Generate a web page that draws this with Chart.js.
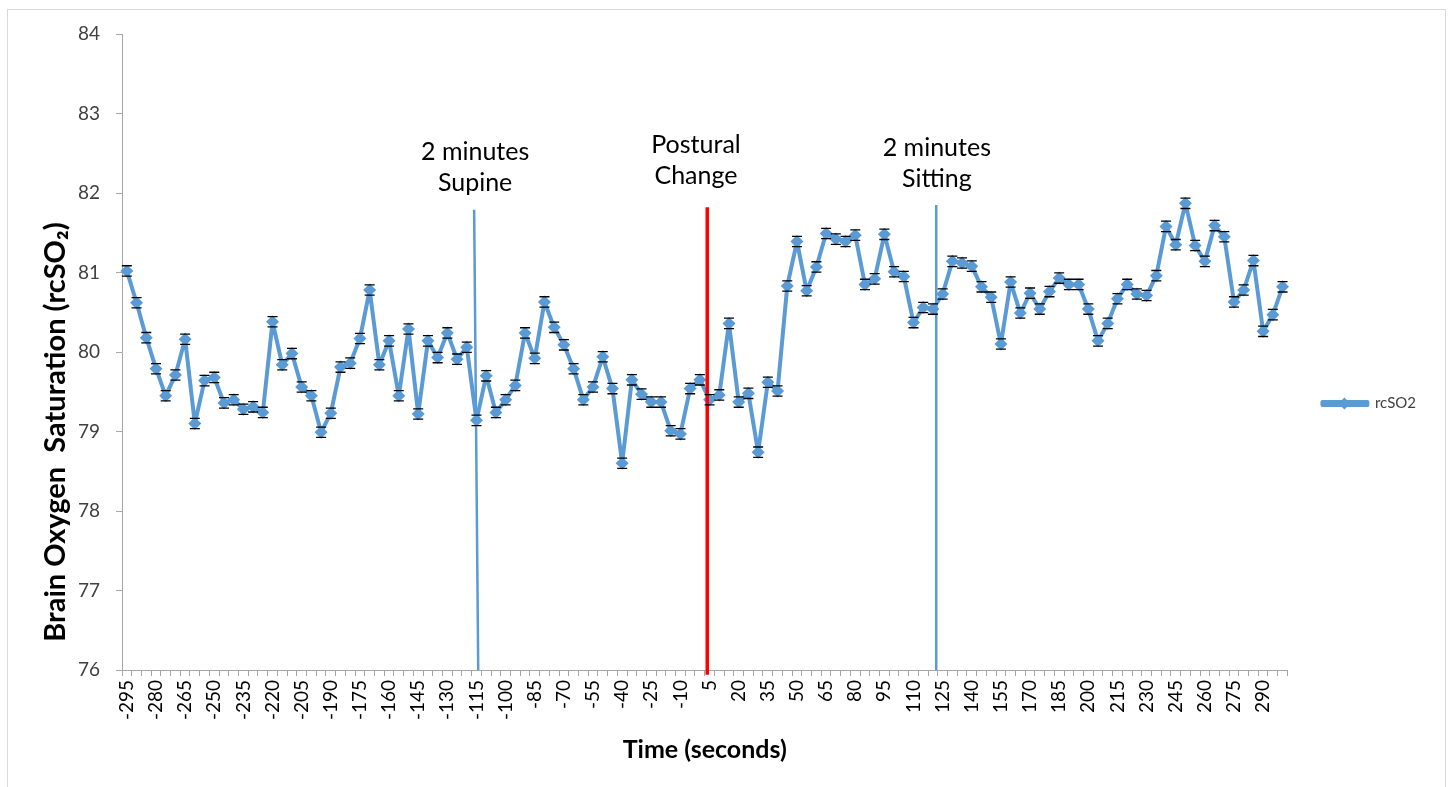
<!DOCTYPE html>
<html>
<head>
<meta charset="utf-8">
<script src="https://cdn.jsdelivr.net/npm/chart.js@4.4.0/dist/chart.umd.min.js"></script>
<style>
  html, body { margin: 0; padding: 0; background: #fff; }
  #wrap { width: 1448px; height: 787px; }
</style>
</head>
<body>
<div id="wrap"><canvas id="myChart" width="1448" height="787"></canvas></div>
<script>
'use strict';

// time in seconds relative to the postural change
let seconds = [
  -295,-290,-285,-280,-275,-270,-265,-260,-255,-250,
  -245,-240,-235,-230,-225,-220,-215,-210,-205,-200,
  -195,-190,-185,-180,-175,-170,-165,-160,-155,-150,
  -145,-140,-135,-130,-125,-120,-115,-110,-105,-100,
  -95,-90,-85,-80,-75,-70,-65,-60,-55,-50,
  -45,-40,-35,-30,-25,-20,-15,-10,-5,0,
  5,10,15,20,25,30,35,40,45,50,
  55,60,65,70,75,80,85,90,95,100,
  105,110,115,120,125,130,135,140,145,150,
  155,160,165,170,175,180,185,190,195,200,
  205,210,215,220,225,230,235,240,245,250,
  255,260,265,270,275,280,285,290,295,300];

let rcSO2 = [
  81.02,80.62,80.18,79.79,79.45,79.71,80.16,79.10,79.64,79.68,
  79.36,79.40,79.28,79.31,79.24,80.38,79.84,79.98,79.56,79.45,
  78.99,79.23,79.81,79.86,80.17,80.78,79.84,80.14,79.45,80.29,
  79.22,80.14,79.93,80.24,79.91,80.06,79.14,79.70,79.24,79.40,
  79.58,80.24,79.92,80.63,80.31,80.09,79.79,79.40,79.56,79.94,
  79.54,78.60,79.65,79.47,79.37,79.37,79.01,78.97,79.54,79.65,
  79.40,79.46,80.36,79.37,79.48,78.74,79.62,79.51,80.83,81.39,
  80.77,81.07,81.49,81.42,81.39,81.47,80.85,80.92,81.48,81.01,
  80.95,80.37,80.56,80.54,80.73,81.14,81.12,81.08,80.82,80.69,
  80.10,80.88,80.49,80.74,80.54,80.76,80.93,80.85,80.85,80.54,
  80.14,80.36,80.67,80.85,80.73,80.71,80.96,81.58,81.35,81.87,
  81.34,81.14,81.59,81.45,80.63,80.78,81.15,80.26,80.47,80.82];

// standard error shown as caps around each point
let stdErr = 0.065;

let yTicks = [76, 77, 78, 79, 80, 81, 82, 83, 84];

// event markers drawn as two-point lines: [seconds, rcSO2]
let supineLine = [[-116.2, 81.79], [-114.1, 76]];
let changeLine = [[3.8, 81.82], [3.8, 75.94]];
let sittingLine = [[121.7, 81.85], [121.7, 76]];
let markerLabels = [
  { x: -115.7, lines: ['2 minutes', 'Supine'], top: 152 },
  { x: -2, lines: ['Postural', 'Change'], top: 145 },
  { x: 122, lines: ['2 minutes', 'Sitting'], top: 148 }
];
let yTitle = 'Brain Oxygen  Saturation (rcSO₂)';

const BLUE = '#5B9BD5';
const FONT = 'Lato, "Open Sans", sans-serif';

function toPoints(arr) {
  return arr.map(p => ({ x: p[0], y: p[1] }));
}

let framePlugin = {
  id: 'frame',
  beforeDraw(chart) {
    let ctx = chart.ctx;
    ctx.save();
    ctx.fillStyle = '#fff';
    ctx.fillRect(0, 0, chart.width, chart.height);
    ctx.strokeStyle = '#d9d9d9';
    ctx.lineWidth = 1;
    ctx.strokeRect(7.5, 9.5, 1438, 800);
    ctx.restore();
  }
};

let errorBarPlugin = {
  id: 'errorBars',
  afterDatasetsDraw(chart) {
    let ctx = chart.ctx;
    let meta = chart.getDatasetMeta(0);
    let y = chart.scales.y;
    ctx.save();
    ctx.strokeStyle = '#000';
    ctx.lineWidth = 1.3;
    meta.data.forEach((pt, i) => {
      let yHi = y.getPixelForValue(rcSO2[i] + stdErr);
      let yLo = y.getPixelForValue(rcSO2[i] - stdErr);
      ctx.beginPath();
      ctx.moveTo(pt.x - 5, yHi); ctx.lineTo(pt.x + 5, yHi);
      ctx.moveTo(pt.x - 5, yLo); ctx.lineTo(pt.x + 5, yLo);
      ctx.stroke();
    });
    ctx.restore();
  }
};

let textPlugin = {
  id: 'extraText',
  afterDraw(chart) {
    let ctx = chart.ctx;
    let x2 = chart.scales.x2;
    ctx.save();
    ctx.font = '25px ' + FONT;
    ctx.fillStyle = '#000';
    ctx.textAlign = 'center';
    ctx.textBaseline = 'middle';
    markerLabels.forEach(m => {
      let px = x2.getPixelForValue(m.x);
      m.lines.forEach((t, k) => ctx.fillText(t, px, m.top + k * 31));
    });
    // y axis title, centred on the whole chart height like Excel does
    ctx.font = 'bold 29px ' + FONT;
    ctx.translate(56, 432);
    ctx.rotate(-Math.PI / 2);
    ctx.fillText(yTitle, 0, 0);
    ctx.restore();
  }
};

let legendMarkPlugin = {
  id: 'legendMark',
  afterDraw(chart) {
    let boxes = chart.legend && chart.legend.legendHitBoxes;
    if (!boxes || !boxes.length) return;
    let b = boxes[0];
    let cx = b.left + 22;
    let cy = b.top + b.height / 2;
    let ctx = chart.ctx;
    ctx.save();
    ctx.fillStyle = BLUE;
    ctx.beginPath();
    ctx.moveTo(cx, cy - 6); ctx.lineTo(cx + 6, cy);
    ctx.lineTo(cx, cy + 6); ctx.lineTo(cx - 6, cy);
    ctx.closePath();
    ctx.fill();
    ctx.restore();
  }
};

function vLine(points, color, width) {
  return {
    label: '',
    data: toPoints(points),
    xAxisID: 'x2',
    yAxisID: 'y',
    borderColor: color,
    backgroundColor: color,
    borderWidth: width,
    pointRadius: 0,
    showLine: true,
    clip: false,
    order: 0
  };
}

let ctx = document.getElementById('myChart').getContext('2d');

let myChart = new Chart(ctx, {
  type: 'line',
  data: {
    labels: seconds,
    datasets: [
      {
        label: 'rcSO2',
        data: rcSO2,
        xAxisID: 'x',
        yAxisID: 'y',
        borderColor: BLUE,
        backgroundColor: BLUE,
        borderWidth: 4,
        borderJoinStyle: 'round',
        borderCapStyle: 'round',
        pointStyle: 'rectRot',
        pointRadius: 6.5,
        pointHoverRadius: 6.5,
        pointBorderWidth: 0,
        tension: 0,
        order: 1
      },
      vLine(supineLine, BLUE, 2.5),
      vLine(changeLine, '#FF0000', 3.5),
      vLine(sittingLine, BLUE, 2.5)
    ]
  },
  options: {
    responsive: false,
    animation: false,
    layout: { padding: { top: 34, left: 10, right: 22, bottom: 14 } },
    plugins: {
      tooltip: { enabled: false },
      legend: {
        position: 'right',
        labels: {
          filter: item => item.text === 'rcSO2',
          boxWidth: 45,
          boxHeight: 3,
          padding: 5,
          color: '#404040',
          font: { family: FONT, size: 15 }
        }
      }
    },
    scales: {
      y: {
        min: yTicks[0],
        max: yTicks[yTicks.length - 1],
        afterFit(scale) { scale.width = 112; },
        afterBuildTicks(scale) { scale.ticks = yTicks.map(v => ({ value: v })); },
        grid: {
          drawOnChartArea: false,
          drawTicks: true,
          tickLength: 6,
          color: '#a6a6a6'
        },
        border: { color: '#a6a6a6' },
        ticks: {
          padding: 16,
          color: '#404040',
          font: { family: FONT, size: 19 }
        },
        title: { display: false }
      },
      x: {
        type: 'category',
        offset: true,
        afterFit(scale) { scale.height = 103; },
        grid: {
          offset: true,
          drawOnChartArea: false,
          drawTicks: true,
          tickLength: 6,
          color: '#a6a6a6'
        },
        border: { color: '#a6a6a6' },
        ticks: {
          autoSkip: false,
          maxRotation: 90,
          minRotation: 90,
          padding: 4,
          color: '#000',
          font: { family: FONT, size: 19 },
          callback(value, index) {
            return index % 3 === 0 ? String(seconds[index]) : '';
          }
        },
        title: {
          display: true,
          text: 'Time (seconds)',
          color: '#000',
          font: { family: FONT, size: 25, weight: 'bold' },
          padding: { top: 0, bottom: 8 }
        }
      },
      x2: {
        type: 'linear',
        display: false,
        min: -297.5,
        max: 302.5
      },
      // empty spacer between the plot and the legend
      gap: {
        type: 'linear',
        position: 'right',
        min: 0,
        max: 1,
        afterFit(scale) { scale.width = 30; },
        grid: { display: false },
        border: { display: false },
        ticks: { display: false }
      }
    }
  },
  plugins: [framePlugin, errorBarPlugin, textPlugin, legendMarkPlugin]
});
</script>
</body>
</html>
